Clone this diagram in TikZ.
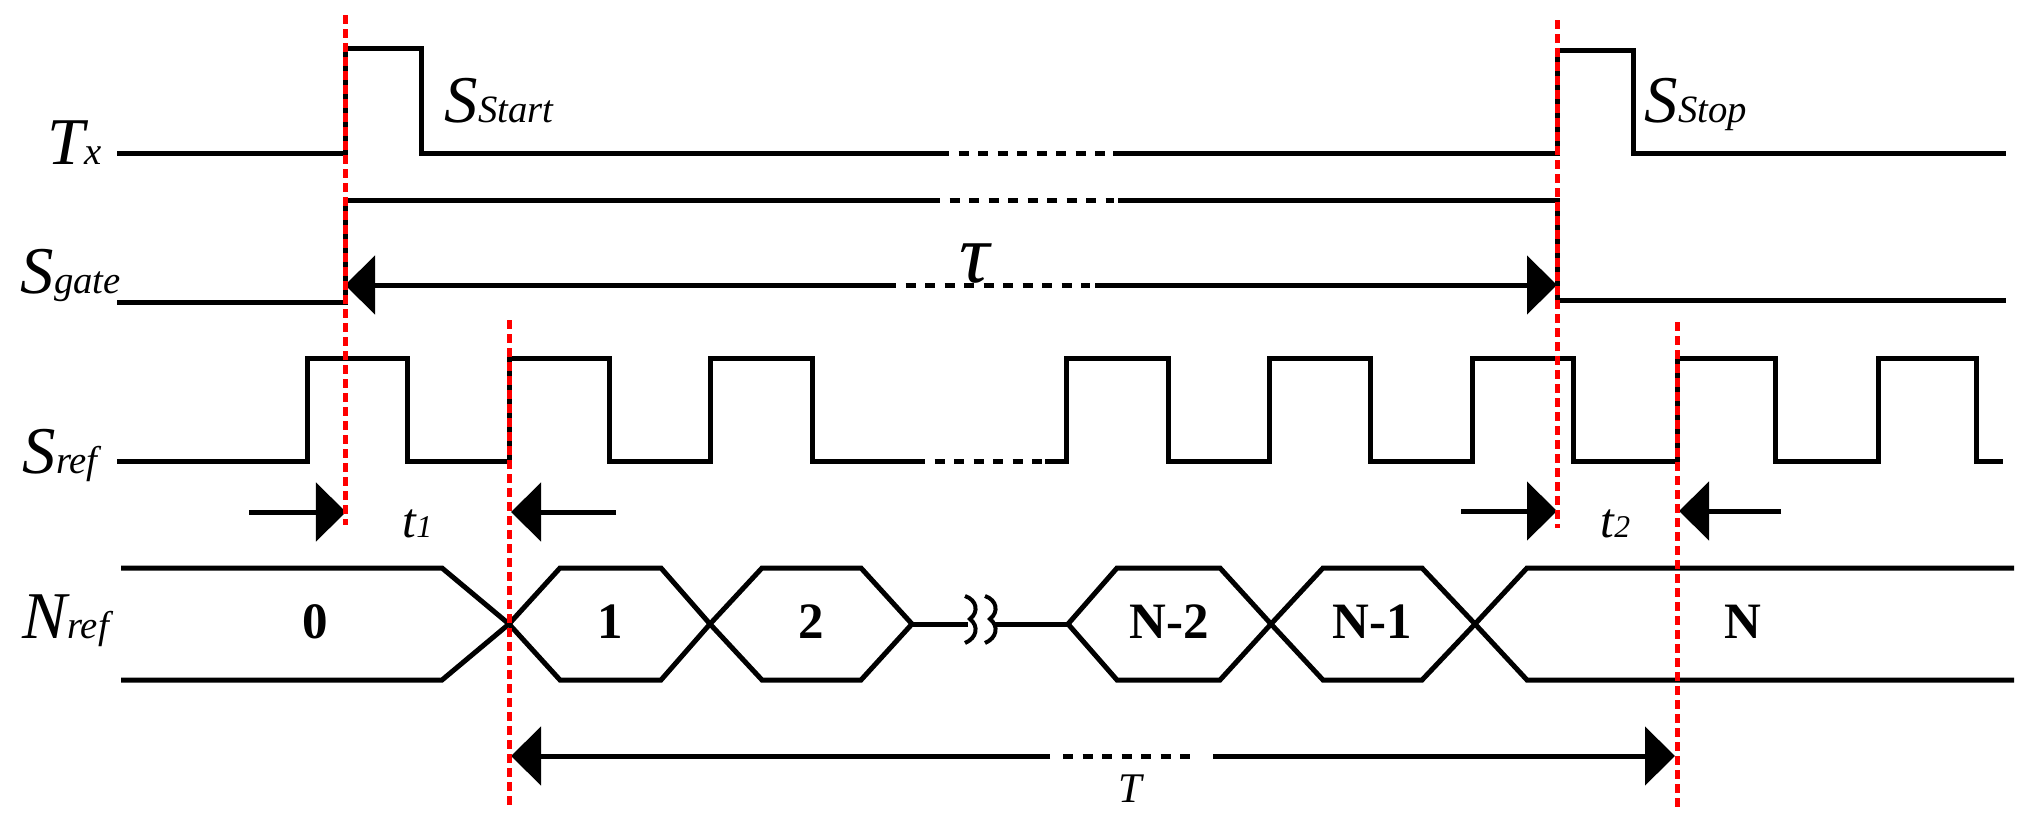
\documentclass[tikz,border=0pt]{standalone}
\usepackage{fontspec}
\setmainfont{Liberation Serif}
\usetikzlibrary{arrows.meta}
\newcommand\subsz[1]{{\fontsize{11}{11}\selectfont #1}}
\begin{document}
\begin{tikzpicture}[x=0.01cm,y=-0.01cm,
  sig/.style={line width=0.05cm},
  brk/.style={line width=0.05cm, dash pattern=on 0.1cm off 0.095cm},
  redline/.style={red, line width=0.05cm, dash pattern=on 0.09cm off 0.05cm},
  tip/.style={-{Triangle[length=0.3cm,width=0.58cm]}},
  big/.style={font=\fontsize{19}{19}\selectfont\itshape, inner sep=0, anchor=base west},
  small/.style={font=\fontsize{14}{14}\selectfont\itshape, inner sep=0, anchor=base west},
  num/.style={font=\fontsize{14.5}{15}\selectfont\bfseries, inner sep=0}]
\useasboundingbox (0,0) rectangle (2033,833);

% ---- labels
\node[big] (lTx) at (47,164) {T\subsz{x}};
\node[big] (lSg) at (20,293) {S\subsz{gate}};
\node[big] (lSr) at (22,473) {S\subsz{ref}};
\node[big] (lNr) at (22,638) {N\subsz{ref}};
\node[big] (lSs) at (444,122) {S\subsz{Start}};
\node[big] (lSp) at (1644,122) {S\subsz{Stop}};
\node[small] (lt1) at (402,537) {t{\fontsize{9}{9}\selectfont 1}};
\node[small] (lt2) at (1600,537) {t{\fontsize{9}{9}\selectfont 2}};
\node[font=\fontsize{24}{24}\selectfont\itshape, inner sep=0, anchor=base] (ltau) at (975,282) {τ};
\node[font=\fontsize{12}{12}\selectfont\itshape, inner sep=0, anchor=base] (lT) at (1130,802) {T};

% ---- Tx
\draw[sig] (117,153) -- (345,153) -- (345,48) -- (421,48) -- (421,153) -- (939,153);
\draw[brk] (939,153) -- (1106,153);
\draw[sig] (1113,153) -- (1557,153) -- (1557,50) -- (1633,50) -- (1633,153) -- (2006,153);

% ---- Sgate
\draw[sig] (117,302) -- (345,302) -- (345,200) -- (930,200);
\draw[brk] (930,200) -- (1114,200);
\draw[sig] (1118,200) -- (1557,200) -- (1557,300) -- (2006,300);

% ---- tau arrow
\coordinate (tauL) at (345,285);
\coordinate (tauR) at (1557,285);
\coordinate (tauA) at (886,285);
\coordinate (tauB) at (1095,285);
\draw[sig,tip] (tauA) -- (tauL);
\draw[brk] (tauA) -- (1090,285);
\draw[sig,tip] (tauB) -- (tauR);

% ---- Sref
\draw[sig] (117,461) -- (307,461) -- (307,358) -- (407,358) -- (407,461) -- (509,461) -- (509,358) -- (609,358) -- (609,461)
  -- (710,461) -- (710,358) -- (812,358) -- (812,461) -- (915,461);
\draw[brk] (915,461) -- (1045,461);
\draw[sig] (1045,461) -- (1066,461) -- (1066,358) -- (1168,358) -- (1168,461) -- (1269,461) -- (1269,358) -- (1370,358) -- (1370,461)
  -- (1472,461) -- (1472,358) -- (1573,358) -- (1573,461) -- (1677,461) -- (1677,358) -- (1775,358) -- (1775,461)
  -- (1878,461) -- (1878,358) -- (1976,358) -- (1976,461) -- (2003,461);

% ---- t1, t2 arrows
\coordinate (t1a) at (249,512); \coordinate (t1b) at (346,512);
\coordinate (t1c) at (616,512); \coordinate (t1d) at (511,512);
\coordinate (t2a) at (1461,511); \coordinate (t2b) at (1557,511);
\coordinate (t2c) at (1781,511); \coordinate (t2d) at (1679,511);
\draw[sig,tip] (t1a) -- (t1b);
\draw[sig,tip] (t1c) -- (t1d);
\draw[sig,tip] (t2a) -- (t2b);
\draw[sig,tip] (t2c) -- (t2d);

% ---- Nref
\draw[sig] (121,568) -- (442,568) -- (509,624) -- (442,680) -- (121,680);
\draw[sig] (509,624) -- (560,568) -- (661,568) -- (710,624) -- (661,680) -- (560,680) -- cycle;
\draw[sig] (710,624) -- (762,568) -- (861,568) -- (912,624) -- (861,680) -- (762,680) -- cycle;
\draw[sig] (912,624) -- (968,624);
\draw[line width=0.04cm] (965,596) .. controls (977,600) and (979,612) .. (970,619) .. controls (979,626) and (977,638) .. (965,643);
\draw[line width=0.04cm] (985,596) .. controls (997,600) and (999,612) .. (990,619) .. controls (999,626) and (997,638) .. (985,643);
\draw[sig] (994,624) -- (1068,624);
\draw[sig] (1068,624) -- (1117,568) -- (1220,568) -- (1271,624) -- (1220,680) -- (1117,680) -- cycle;
\draw[sig] (1271,624) -- (1323,568) -- (1422,568) -- (1475,624) -- (1422,680) -- (1323,680) -- cycle;
\draw[sig] (2014,568) -- (1527,568) -- (1475,624) -- (1527,680) -- (2014,680);
\node[num] (n0) at (315,622) {0};
\node[num] (n1) at (610,622) {1};
\node[num] (n2) at (811,622) {2};
\node[num] (nN2) at (1169,622) {N-2};
\node[num] (nN1) at (1372,622) {N-1};
\node[num] (nN) at (1743,622) {N};

% ---- T arrow
\coordinate (TL) at (511,756);
\coordinate (TR) at (1675,756);
\coordinate (TA) at (1050,756);
\coordinate (TB) at (1213,756);
\draw[sig,tip] (TA) -- (TL);
\draw[brk] (1063,756) -- (1196,756);
\draw[sig,tip] (TB) -- (TR);

% ---- red markers
\draw[redline] (345,15) -- (345,525);
\draw[redline] (509,320) -- (509,810);
\draw[redline] (1557,20) -- (1557,528);
\draw[redline] (1677,322) -- (1677,810);
\end{tikzpicture}
\end{document}
